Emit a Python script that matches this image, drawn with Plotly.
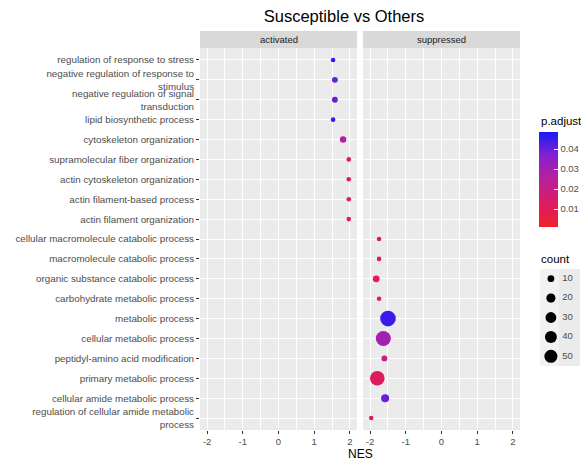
import math
import plotly.graph_objects as go

terms = [
    "regulation of response to stress",
    "negative regulation of response to stimulus",
    "negative regulation of signal transduction",
    "lipid biosynthetic process",
    "cytoskeleton organization",
    "supramolecular fiber organization",
    "actin cytoskeleton organization",
    "actin filament-based process",
    "actin filament organization",
    "cellular macromolecule catabolic process",
    "macromolecule catabolic process",
    "organic substance catabolic process",
    "carbohydrate metabolic process",
    "metabolic process",
    "cellular metabolic process",
    "peptidyl-amino acid modification",
    "primary metabolic process",
    "cellular amide metabolic process",
    "regulation of cellular amide metabolic process",
]
tick_labels = [
    "regulation of response to stress",
    "negative regulation of response to<br>stimulus",
    "negative regulation of signal<br>transduction",
    "lipid biosynthetic process",
    "cytoskeleton organization",
    "supramolecular fiber organization",
    "actin cytoskeleton organization",
    "actin filament-based process",
    "actin filament organization",
    "cellular macromolecule catabolic process",
    "macromolecule catabolic process",
    "organic substance catabolic process",
    "carbohydrate metabolic process",
    "metabolic process",
    "cellular metabolic process",
    "peptidyl-amino acid modification",
    "primary metabolic process",
    "cellular amide metabolic process",
    "regulation of cellular amide metabolic<br>process",
]
facet = ["activated"] * 9 + ["suppressed"] * 10
nes = [1.53, 1.58, 1.58, 1.53, 1.81, 1.97, 1.97, 1.97, 1.97,
       -1.75, -1.75, -1.83, -1.75, -1.50, -1.63, -1.60, -1.80, -1.58, -1.97]
p_adjust = [0.046, 0.040, 0.040, 0.046, 0.027, 0.008, 0.008, 0.008, 0.008,
            0.013, 0.013, 0.010, 0.013, 0.045, 0.030, 0.020, 0.012, 0.040, 0.008]
count = [7, 8, 8, 7, 9, 7, 7, 7, 7,
         7, 7, 10, 7, 80, 73, 8, 67, 14, 7]
facets = ["activated", "suppressed"]
x_ticks = [-2, -1, 0, 1, 2]
legend_counts = [10, 20, 30, 40, 50]
colorbar_ticks = [0.01, 0.02, 0.03, 0.04]

FONT = "Liberation Sans, Arial"

# size scale (area-style, like ggplot scale_size)
C_MIN, C_MAX = min(count), max(count)
R_MIN, R_MAX = 4.6, 15.6


def diam(c):
    s = math.sqrt(max(c - C_MIN, 0) / (C_MAX - C_MIN))
    return R_MIN + (R_MAX - R_MIN) * s


colorscale = [
    [0.0, "#F2222A"],
    [0.25, "#DB1C62"],
    [0.5, "#B8219A"],
    [0.75, "#8720CF"],
    [1.0, "#1A1AF5"],
]

W, H = 581, 460
L, R, T, B = 200, 0, 48, 30
pw = W - L - R
ph = H - T - B


def px_x(p):
    return (p - L) / pw


def px_y(p):
    return (T + ph - p) / ph


d1 = [0, px_x(357)]
d2 = [px_x(363), px_x(520)]

fig = go.Figure()
for i, f in enumerate(facets):
    idx = [k for k in range(len(terms)) if facet[k] == f]
    fig.add_trace(go.Scatter(
        x=[nes[k] for k in idx],
        y=[terms[k] for k in idx],
        mode="markers",
        marker=dict(
            size=[diam(count[k]) for k in idx],
            sizemode="diameter",
            color=[p_adjust[k] for k in idx],
            coloraxis="coloraxis",
            line=dict(width=0),
            opacity=1,
        ),
        xaxis="x" if i == 0 else "x2",
        yaxis="y",
        showlegend=False,
        hovertemplate="%{y}<br>NES=%{x}<extra></extra>",
    ))

# size legend ("count") drawn on its own small axis
legend_keys = [str(c) for c in legend_counts]
fig.add_trace(go.Scatter(
    x=[0] * len(legend_counts), y=legend_keys,
    mode="markers",
    marker=dict(size=[diam(c) for c in legend_counts], color="#000000",
                line=dict(width=0), opacity=1),
    xaxis="x3", yaxis="y3",
    showlegend=False, hoverinfo="skip", cliponaxis=False,
))
fig.add_trace(go.Scatter(
    x=[0.62] * len(legend_counts), y=legend_keys,
    mode="text", text=legend_keys, textposition="middle right",
    textfont=dict(family=FONT, size=9.5, color="#4D4D4D"),
    xaxis="x3", yaxis="y3",
    showlegend=False, hoverinfo="skip", cliponaxis=False,
))

axis_common = dict(
    range=[-2.2, 2.2],
    tickvals=x_ticks,
    ticktext=[str(v) for v in x_ticks],
    showgrid=True, gridcolor="white", gridwidth=1.1,
    zeroline=False,
    ticks="outside", ticklen=3, tickcolor="#333333", tickwidth=1,
    tickfont=dict(family=FONT, size=9.5, color="#4D4D4D"),
    minor=dict(dtick=1, tick0=-1.5, showgrid=True, gridcolor="white", gridwidth=0.5, ticks=""),
    showline=False,
)

fig.update_layout(
    width=W, height=H,
    margin=dict(l=L, r=R, t=T, b=B, autoexpand=False),
    paper_bgcolor="white",
    plot_bgcolor="#EBEBEB",
    font=dict(family=FONT, color="#4D4D4D"),
    showlegend=False,
    xaxis=dict(domain=d1, anchor="y", **axis_common),
    xaxis2=dict(domain=d2, anchor="y", **axis_common),
    yaxis=dict(
        type="category",
        categoryorder="array", categoryarray=terms,
        tickvals=terms, ticktext=tick_labels,
        range=[len(terms) - 0.4, -0.6],
        showgrid=True, gridcolor="white", gridwidth=1.1,
        zeroline=False,
        ticks="outside", ticklen=3, tickcolor="#333333", tickwidth=1,
        tickfont=dict(family=FONT, size=9.8, color="#4D4D4D"),
    ),
    xaxis3=dict(domain=[px_x(540), px_x(580)], anchor="y3", range=[-0.6, 1.6],
                visible=False, fixedrange=True),
    yaxis3=dict(domain=[px_y(366), px_y(269)], anchor="x3", type="category",
                categoryorder="array", categoryarray=legend_keys,
                range=[len(legend_counts) - 0.5, -0.5], visible=False, fixedrange=True),
    coloraxis=dict(
        colorscale=colorscale, cmin=0.001, cmax=0.0485,
        colorbar=dict(
            xref="paper", yref="paper",
            x=px_x(539), xanchor="left",
            y=px_y(132), yanchor="top",
            len=95, lenmode="pixels",
            thickness=19, thicknessmode="pixels",
            outlinewidth=0,
            tickvals=colorbar_ticks,
            ticktext=[str(v) for v in colorbar_ticks],
            ticks="inside", ticklen=4, tickcolor="white",
            tickfont=dict(family=FONT, size=9.5, color="#4D4D4D"),
            xpad=0, ypad=0,
        ),
    ),
    title=dict(
        text="Susceptible vs Others",
        x=344 / W, xanchor="center", xref="container",
        y=1 - 16 / H, yanchor="middle", yref="container",
        font=dict(family=FONT, size=16.5, color="black"),
    ),
)

strip_h = 17 / ph
shapes = []
annotations = []
for dom, name in zip([d1, d2], facets):
    shapes.append(dict(type="rect", xref="paper", yref="paper",
                       x0=dom[0], x1=dom[1], y0=1, y1=1 + strip_h,
                       fillcolor="#D9D9D9", line=dict(width=0), layer="below"))
    annotations.append(dict(text=name, xref="paper", yref="paper",
                            x=(dom[0] + dom[1]) / 2, y=1 + strip_h / 2,
                            xanchor="center", yanchor="middle", showarrow=False,
                            font=dict(family=FONT, size=9.5, color="#1A1A1A")))
# gray key background of the size legend
shapes.append(dict(type="rect", xref="paper", yref="paper",
                   x0=px_x(540), x1=px_x(559), y0=px_y(366), y1=px_y(269),
                   fillcolor="#F2F2F2", line=dict(width=0), layer="below"))
annotations.append(dict(text="NES", xref="paper", yref="paper",
                        x=px_x(360), y=px_y(454),
                        xanchor="center", yanchor="middle", showarrow=False,
                        font=dict(family=FONT, size=12, color="black")))
annotations.append(dict(text="p.adjust", xref="paper", yref="paper",
                        x=px_x(539), y=px_y(121),
                        xanchor="left", yanchor="middle", showarrow=False,
                        font=dict(family=FONT, size=11.5, color="black")))
annotations.append(dict(text="count", xref="paper", yref="paper",
                        x=px_x(539), y=px_y(259),
                        xanchor="left", yanchor="middle", showarrow=False,
                        font=dict(family=FONT, size=11.5, color="black")))
fig.update_layout(shapes=shapes, annotations=annotations)

fig.write_html("out.html")
